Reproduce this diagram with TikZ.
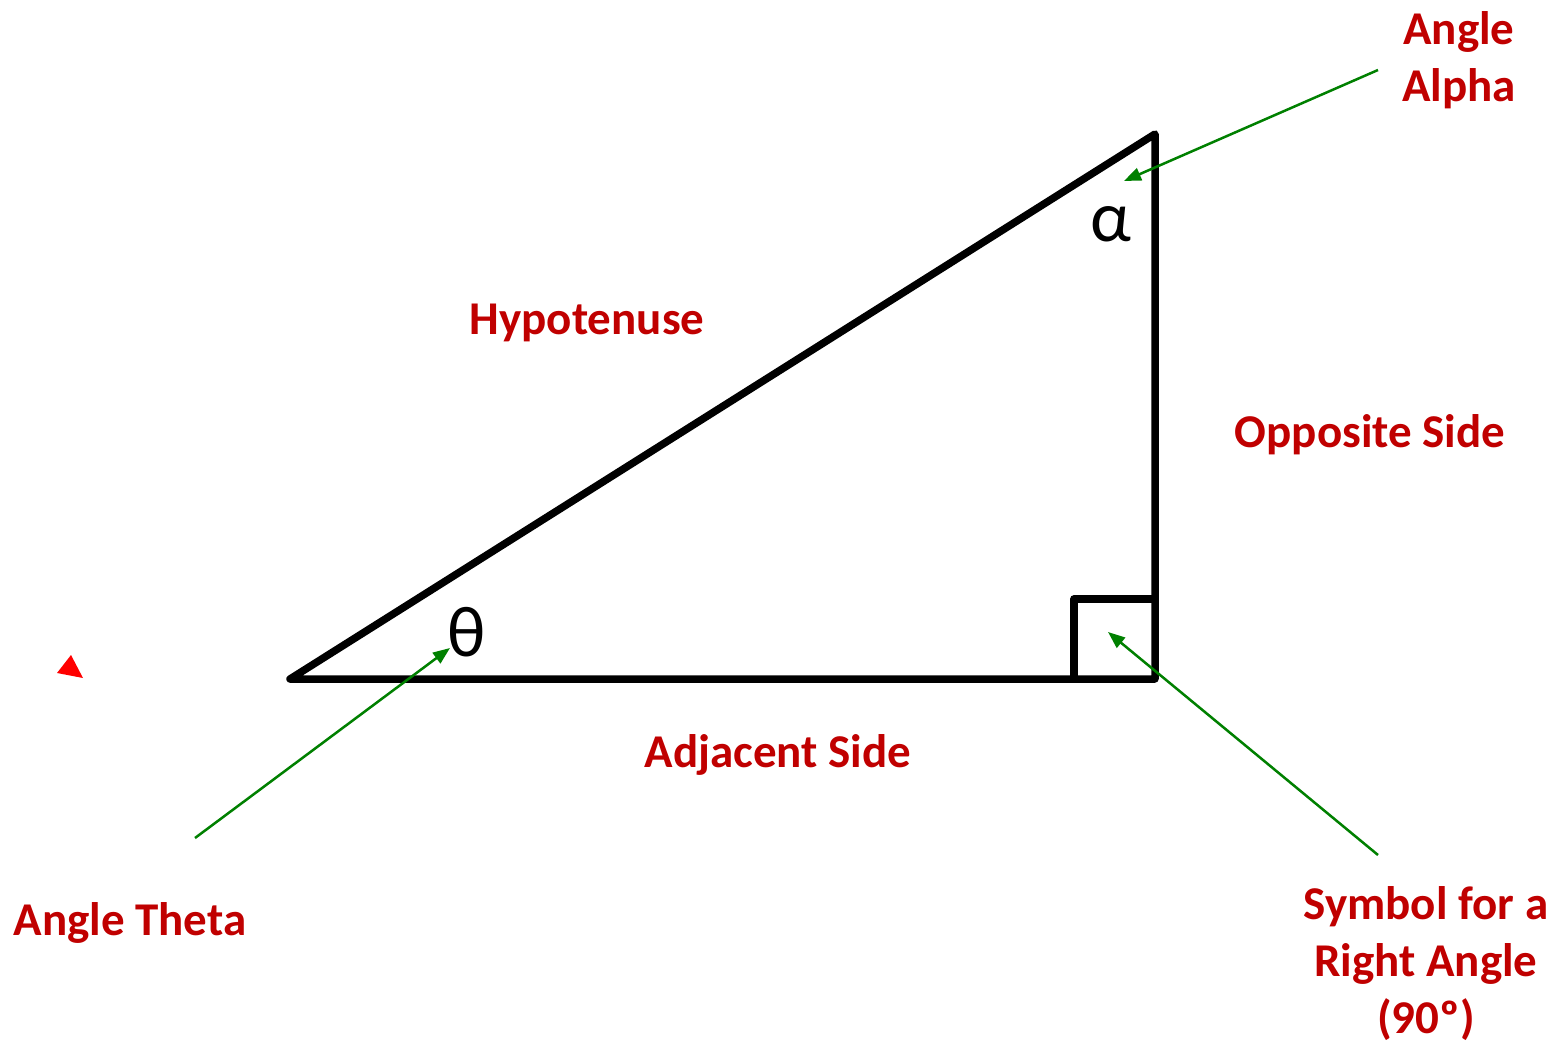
\documentclass[tikz,border=0pt]{standalone}
\usepackage{fontspec}
\setmainfont{Carlito}
\usepackage{xcolor}
\usetikzlibrary{arrows.meta}
\definecolor{labelred}{RGB}{192,0,0}
\definecolor{pointergreen}{RGB}{0,128,0}

\begin{document}
\begin{tikzpicture}[x=1pt, y=-1pt,
  label/.style={text=labelred, font=\fontsize{47}{57}\selectfont\bfseries, align=center, inner sep=0pt},
  pointer/.style={draw=pointergreen, line width=2.5pt, -{Triangle[length=17pt,width=13pt]}},
  side/.style={line width=7.5pt, line join=round, line cap=round},
  greek/.style={font=\fontsize{72}{72}\selectfont, inner sep=0pt}]
  \useasboundingbox (0,0) rectangle (1564,1044);
  % triangle corners
  \coordinate (theta corner) at (290,679);
  \coordinate (right corner) at (1155,679);
  \coordinate (alpha corner) at (1155,134);
  \draw[side] (theta corner) -- (right corner) -- (alpha corner) -- cycle;
  % right angle mark
  \coordinate (mark low) at (1074,679);
  \coordinate (mark high) at (1155,599);
  \draw[side] (mark low) |- (mark high);
  \node[greek] (theta) at (467,632) {θ};
  \node[greek] (alpha) at (1111,224) {α};
  % labels
  \node[label] (hyp) at (587,323) {Hypotenuse};
  \node[label] (opp) at (1370,435) {Opposite Side};
  \node[label] (adj) at (778,755) {Adjacent Side};
  \node[label] (angle theta) at (130,923) {Angle Theta};
  \node[label] (angle alpha) at (1459,60) {Angle\\Alpha};
  \node[label] (right symbol) at (1426,964) {Symbol for a\\Right Angle\\(90º)};
  % pointers
  \coordinate (alpha from) at (1378,70);
  \coordinate (alpha to) at (1124,181);
  \coordinate (theta from) at (195,838);
  \coordinate (theta to) at (450,648);
  \coordinate (square from) at (1378,855);
  \coordinate (square to) at (1108,632);
  \draw[pointer] (alpha from) -- (alpha to);
  \draw[pointer] (theta from) -- (theta to);
  \draw[pointer] (square from) -- (square to);
  % stray marker
  \fill[red] (71,655) -- (57,673) -- (83,678) -- cycle;
\end{tikzpicture}
\end{document}
